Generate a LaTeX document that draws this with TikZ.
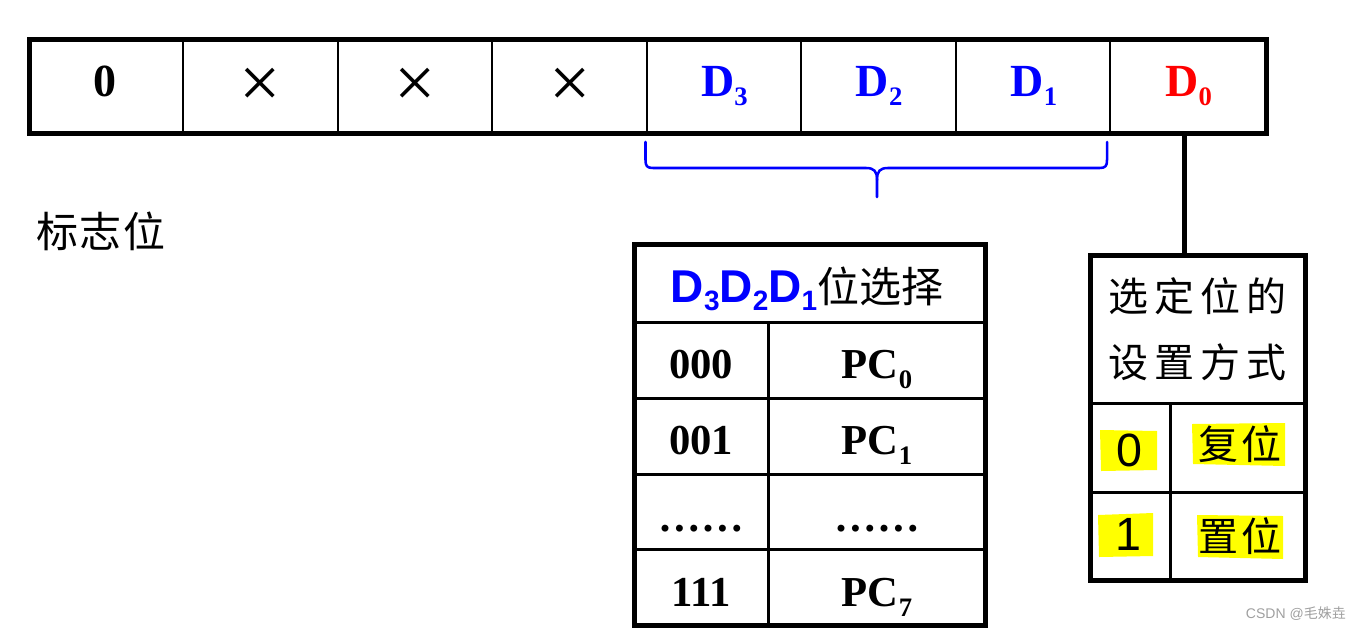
\documentclass[tikz,border=0pt]{standalone}
\usepackage{fontspec}
\setmainfont{Liberation Serif}
\newfontfamily\arialf{Liberation Sans}
\newfontfamily\cjk{Noto Sans CJK SC}
\definecolor{myblue}{RGB}{0,0,255}
\definecolor{myred}{RGB}{255,0,0}
\definecolor{hl}{RGB}{255,255,0}
\newcommand\myfs[1]{\fontsize{#1}{#1}\selectfont}
\newcommand\subd[1]{\raisebox{-6.75pt}{\myfs{20pt}#1}}
\newcommand\subt[1]{\raisebox{-7.5pt}{\myfs{20pt}#1}}
\newcommand\subs[1]{\raisebox{-6pt}{\myfs{21pt}#1}}
\begin{document}
\begin{tikzpicture}[x=0.75pt,y=-0.75pt,
  thickbox/.style={draw, line width=3.75pt, inner sep=0pt},
  thinline/.style={line width=1.5pt},
  midline/.style={line width=2.25pt},
  lbl/.style={inner sep=0pt},
  bigbold/.style={lbl, font=\myfs{34.5pt}\bfseries},
  crossl/.style={lbl, anchor=base, font=\myfs{55pt}},
  cellt/.style={lbl, anchor=base, font=\myfs{32pt}\bfseries},
  cjkt/.style={lbl, font=\cjk\myfs{30pt}},
  hlbox/.style={fill=hl, draw=none},
  bracel/.style={draw=myblue, line width=1.9pt, line cap=round, line join=round}]
\useasboundingbox (0,0) rectangle (1358,632);

% ---------- register ----------
\node[thickbox, minimum width=1236.5*0.75pt, minimum height=93.5*0.75pt] (reg) at (647.75,86.25) {};
\foreach \xx in {183,338,492,647,801,956,1110}
  \draw[thinline] (\xx,39.5) -- (\xx,133);
\node[bigbold] (r7) at (105.4,81) {0};
\node[crossl] (r6) at (260.6,107) {×};
\node[crossl] (r5) at (415.4,107) {×};
\node[crossl] (r4) at (570.1,107) {×};
\node[lbl, anchor=base, font=\myfs{34.5pt}\bfseries, text=myblue] (r3) at (724.4,96.5) {D\subd{3}};
\node[lbl, anchor=base, font=\myfs{34.5pt}\bfseries, text=myblue] (r2) at (879.1,96.5) {D\subd{2}};
\node[lbl, anchor=base, font=\myfs{34.5pt}\bfseries, text=myblue] (r1) at (1033.9,96.5) {D\subd{1}};
\node[lbl, anchor=base, font=\myfs{34.5pt}\bfseries, text=myred] (r0) at (1188.6,96.5) {D\subd{0}};

% ---------- brace ----------
\draw[bracel] (645.5,142) -- (645.5,160) .. controls (645.5,166) and (647,168) .. (653,168)
  -- (866,168) .. controls (874,168) and (877,171) .. (877,180) -- (877,197);
\draw[bracel] (1107,142) -- (1107,160) .. controls (1107,166) and (1105.5,168) .. (1099.5,168)
  -- (888,168) .. controls (880,168) and (877,171) .. (877,180);

% ---------- label ----------
\node[lbl, font=\cjk\myfs{31.5pt}] (flag) at (101,231) {标\hspace{1.5pt}志\hspace{1.5pt}位};

% ---------- table 1 ----------
\node[thickbox, minimum width=351.5*0.75pt, minimum height=381*0.75pt] (t1) at (809.75,435) {};
\draw[midline] (634,322) -- (985.5,322);
\foreach \yy in {398,474,549}
  \draw[midline] (634,\yy) -- (985.5,\yy);
\draw[midline] (768,322) -- (768,625.5);
\node[lbl, anchor=base] (h1) at (807,302)
  {{\arialf\bfseries\myfs{34.5pt}\color{myblue}D\subs{3}D\subs{2}D\subs{1}}{\cjk\myfs{31.5pt}位选择}};
\node[cellt] (a1) at (701,378) {000};
\node[cellt] (b1) at (877,378) {PC\subt{0}};
\node[cellt] (a2) at (701,454) {001};
\node[cellt] (b2) at (877,454) {PC\subt{1}};
\node[cellt] (a3) at (701,531) {……};
\node[cellt] (b3) at (877,531) {……};
\node[cellt] (a4) at (701,606) {111};
\node[cellt] (b4) at (877,606) {PC\subt{7}};

% ---------- table 2 ----------
\node[thickbox, minimum width=215*0.75pt, minimum height=325.5*0.75pt] (t2) at (1198,417.75) {};
\draw[midline] (1090.5,403) -- (1305.5,403);
\draw[midline] (1090.5,492) -- (1305.5,492);
\draw[midline] (1170,403) -- (1170,580.5);
\node[cjkt] (m1) at (1197.5,296.5) {选\hspace{4.5pt}定\hspace{4.5pt}位\hspace{4.5pt}的};
\node[cjkt] (m2) at (1197.5,362.5) {设\hspace{4.5pt}置\hspace{4.5pt}方\hspace{4.5pt}式};
\fill[hl] (1100,430) -- (1157,431) -- (1157,470) -- (1101,471) -- cycle;
\fill[hl] (1192,424) -- (1285,423) -- (1285,466) -- (1193,464) -- cycle;
\fill[hl] (1098,515) -- (1153,513) -- (1153,556) -- (1099,557) -- cycle;
\fill[hl] (1197,515) -- (1283,516) -- (1283,559) -- (1198,557) -- cycle;
\node[lbl, font=\arialf\myfs{35pt}] (z0) at (1129,450) {0};
\node[lbl, font=\arialf\myfs{35pt}] (z1) at (1128,534) {1};
\node[cjkt] (fw) at (1240,444) {复\hspace{2pt}位};
\node[cjkt] (zw) at (1240,536) {置\hspace{2pt}位};

% ---------- connector ----------
\coordinate (d0b) at (1184,133);
\draw[line width=3.75pt] (d0b) -- (d0b |- t2.north);

% ---------- watermark ----------
\node[lbl, anchor=east, text=gray!75, font=\arialf\myfs{10.5pt}] (wm) at (1346,614) {CSDN @{\cjk 毛姝垚}};
\end{tikzpicture}
\end{document}
